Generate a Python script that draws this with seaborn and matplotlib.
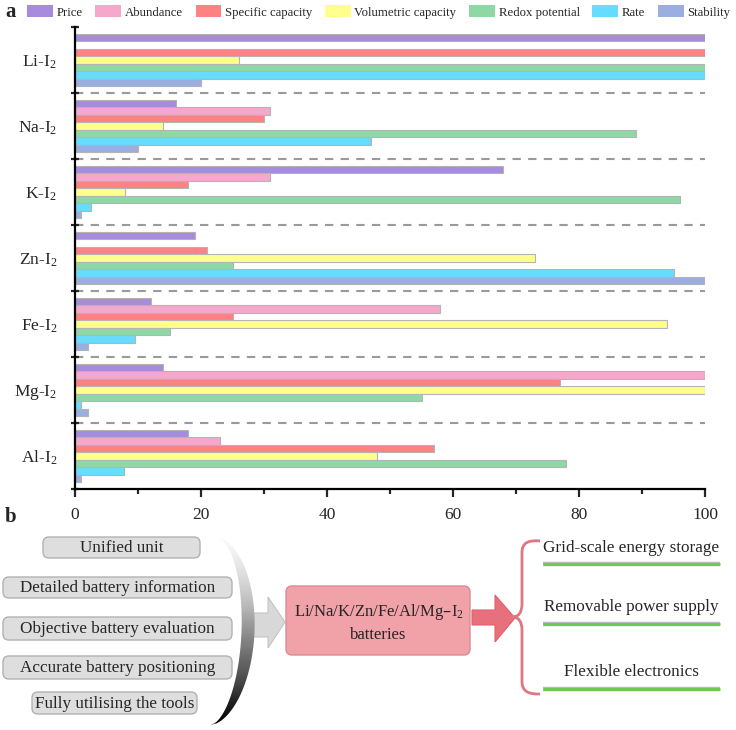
import numpy as np
import pandas as pd
import seaborn as sns
import matplotlib.pyplot as plt
from matplotlib.patches import FancyBboxPatch, Polygon, PathPatch
from matplotlib.path import Path
import matplotlib.patheffects as pe

# ---- panel a data (percent of best) ----
batteries = ['Li-I$_2$', 'Na-I$_2$', 'K-I$_2$', 'Zn-I$_2$', 'Fe-I$_2$', 'Mg-I$_2$', 'Al-I$_2$']
metrics = ['Price', 'Abundance', 'Specific capacity', 'Volumetric capacity',
           'Redox potential', 'Rate', 'Stability']
price = [100, 16, 68, 19, 12, 14, 18]
abundance = [np.nan, 31, 31, np.nan, 58, 100, 23]
specific = [100, 30, 18, 21, 25, 77, 57]
volumetric = [26, 14, 8, 73, 94, 100, 48]
redox = [100, 89, 96, 25, 15, 55, 78]
rate = [100, 47, 2.5, 95, 9.6, 1, 7.7]
stability = [20, 10, 1, 100, 2, 2, 1]
colors = ['#a78bdc', '#f5a8cc', '#ff8282', '#ffff8c', '#8ed8a6', '#66dcff', '#9aaee0']

# ---- panel b text ----
reasons = ['Unified unit', 'Detailed battery information', 'Objective battery evaluation',
           'Accurate battery positioning', 'Fully utilising the tools']
center_lines = ['Li/Na/K/Zn/Fe/Al/Mg\u2013I$_2$', 'batteries']
uses = ['Grid-scale energy storage', 'Removable power supply', 'Flexible electronics']

vals = [price, abundance, specific, volumetric, redox, rate, stability]
rows = []
for m, v in zip(metrics, vals):
    for b, x in zip(batteries, v):
        rows.append({'battery': b, 'metric': m, 'value': x})
df = pd.DataFrame(rows)

sns.set_style('ticks')
plt.rcParams['font.family'] = ['Liberation Serif', 'DejaVu Serif']
plt.rcParams['mathtext.default'] = 'regular'

fig = plt.figure(figsize=(7.36, 7.3), dpi=100)
ax = fig.add_axes([75/736, 1-489/730, 630/736, 462/730])

sns.barplot(data=df, y='battery', x='value', hue='metric', order=batteries,
            hue_order=metrics, palette=colors, saturation=1, orient='h',
            errorbar=None, edgecolor='#b4b4b4', linewidth=0.8, width=0.8, ax=ax)

handles, labels = ax.get_legend_handles_labels()
ax.get_legend().remove()
for h in handles:
    h.set_edgecolor('none')
fig.legend(handles, labels, loc='center left', bbox_to_anchor=(27/736, 1-12/730),
           ncol=7, frameon=False, fontsize=9.2, handlelength=2.0, handleheight=1.0,
           handletextpad=0.3, columnspacing=1.0, borderaxespad=0, borderpad=0)

ax.set_xlim(0, 100)
ax.set_ylim(6.5, -0.5)
ax.hlines(np.arange(0.5, 6, 1), 0, 100, colors='#9a9a9a', linestyles=(0, (4, 3.5)),
          linewidth=1.5, zorder=0)
ax.set_xlabel('')
ax.set_ylabel('')
ax.set_xticks(np.arange(0, 101, 20))
ax.set_xticks(np.arange(10, 100, 20), minor=True)
ax.set_yticks(np.arange(7))
ax.set_yticklabels(batteries, fontsize=12.5)
ax.set_yticks(np.arange(-0.5, 7, 1), minor=True)
ax.tick_params(axis='x', which='major', direction='out', length=6, width=1.6,
               pad=7, labelsize=12.5)
ax.tick_params(axis='x', which='minor', direction='out', length=3.5, width=1.6)
ax.tick_params(axis='y', which='major', length=0, pad=13)
ax.tick_params(axis='y', which='minor', direction='inout', length=6, width=1.6)
for s in ['top', 'right']:
    ax.spines[s].set_visible(False)
for s in ['left', 'bottom']:
    ax.spines[s].set_linewidth(1.6)
    ax.spines[s].set_color('black')

fig.text(5/736, 1-12/730, 'a', fontsize=15, fontweight='bold', va='center')
fig.text(5/736, 1-517/730, 'b', fontsize=15, fontweight='bold', va='center')

# ---- panel b: diagram in pixel coordinates ----
ax2 = fig.add_axes([0, 0, 1, 1])
ax2.axis('off')

# gray arrow
ax2.add_patch(Polygon([(245, 613), (268, 613), (268, 597), (285, 622), (268, 648),
                       (268, 637), (245, 637)], closed=True, fc='#d8d8d8',
                      ec='#c4c4c4', lw=0.8, zorder=1))

# crescent with gradient
yy = np.linspace(538, 725, 120)
s = (yy - 631.5) / 93.5
f = np.clip(1 - s**2, 0, 1) ** 0.55
xe = 217 + (210 - 217) * (yy - 538) / 187
outer = xe + 41 * f
inner = xe + 28 * f
pts = np.vstack([np.column_stack([outer, yy]), np.column_stack([inner[::-1], yy[::-1]])])
cres = Polygon(pts, closed=True, fc='none', ec='none', zorder=2)
ax2.add_patch(cres)
grad = np.linspace(0.04, 1.0, 256).reshape(-1, 1)
im = ax2.imshow(grad, extent=[200, 265, 725, 538], cmap='Greys', vmin=0, vmax=1,
                aspect='auto', zorder=2)
im.set_clip_path(cres)

# reason boxes
boxes = [(43, 200, 537, 558), (3, 232, 577, 598), (3, 232, 617, 640),
         (3, 232, 656, 679), (32, 197, 692, 714)]
for (x0, x1, y0, y1), t in zip(boxes, reasons):
    ax2.add_patch(FancyBboxPatch((x0, y0), x1 - x0, y1 - y0,
                                 boxstyle='round,pad=0,rounding_size=6',
                                 fc='#dedede', ec='#b2b2b2', lw=1, zorder=3))
    ax2.text((x0 + x1) / 2, (y0 + y1) / 2 + 0.5, t, ha='center', va='center',
             fontsize=12.3, zorder=4)

# central box
ax2.add_patch(FancyBboxPatch((286, 586), 184, 69, boxstyle='round,pad=0,rounding_size=6',
                             fc='#f1a2a9', ec='#d98c94', lw=1, zorder=3))
ax2.text(379, 612, center_lines[0], ha='center', va='center', fontsize=12, zorder=4)
ax2.text(378, 635, center_lines[1], ha='center', va='center', fontsize=12, zorder=4)

# red arrow
ax2.add_patch(Polygon([(472, 610), (495, 610), (495, 595), (515, 618), (495, 642),
                       (495, 625), (472, 625)], closed=True, fc='#e8707c',
                      ec='#e0606e', lw=0.8, zorder=3))

# curly brace
verts = [(540, 541), (522, 539), (522, 552), (522, 604), (522, 617), (512, 617),
         (522, 617), (522, 630), (522, 682), (522, 695), (540, 694)]
codes = [Path.MOVETO, Path.CURVE3, Path.CURVE3, Path.LINETO, Path.CURVE3, Path.CURVE3,
         Path.CURVE3, Path.CURVE3, Path.LINETO, Path.CURVE3, Path.CURVE3]
ax2.add_patch(PathPatch(Path(verts, codes), fc='none', ec='#e07585', lw=2, zorder=3))

# uses with green underlines
use_y = [548, 607, 672]
line_y = [564, 624, 689]
for t, ty, ly in zip(uses, use_y, line_y):
    ax2.text(631, ty, t, ha='center', va='center', fontsize=12.3, zorder=4)
    ax2.plot([543, 720], [ly, ly], color='#66cc4c', lw=2, solid_capstyle='butt',
             path_effects=[pe.Stroke(linewidth=3.2, foreground='#b8b8b8'), pe.Normal()],
             zorder=3)

ax2.set_xlim(0, 736)
ax2.set_ylim(730, 0)

fig.savefig('out.png', dpi=100)
